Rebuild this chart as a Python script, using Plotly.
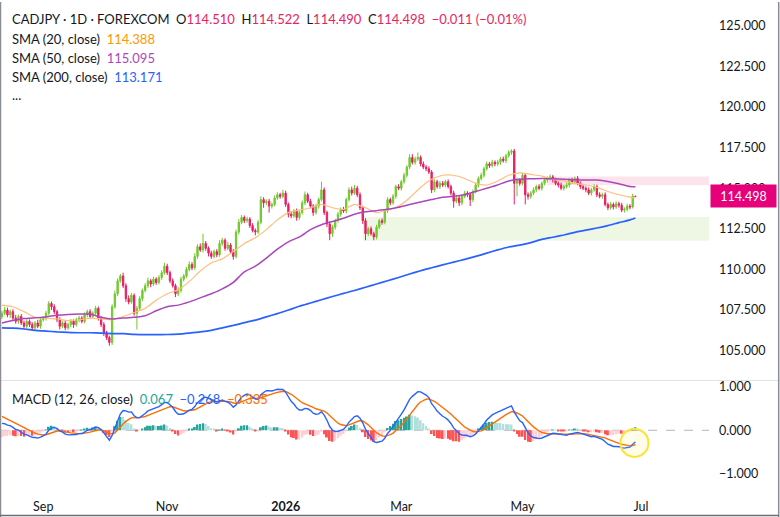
import pandas as pd
import plotly.graph_objects as go

# ---------------- data ----------------
first_open = 107.1
last_open = 114.510
closes = [
    107.3, 107.5, 107.2, 107.4, 107.0, 106.8, 107.1, 106.7, 106.5, 106.8,
    106.6, 106.4, 106.7, 106.5, 106.9, 107.0, 107.3, 107.9, 107.7, 107.4,
    106.9, 106.5, 106.7, 106.4, 106.6, 106.8, 106.6, 106.9, 107.0, 106.8,
    107.2, 107.4, 107.1, 107.3, 107.6, 107.0, 106.6, 106.1, 105.8, 105.5,
    107.7, 108.5, 109.3, 109.6, 109.0, 108.2, 108.0, 108.4, 107.3, 107.6,
    108.2, 108.7, 109.0, 109.3, 109.1, 109.4, 109.2, 109.5, 109.8, 110.2,
    109.8, 109.3, 109.0, 108.5, 108.7, 109.4, 109.6, 110.0, 110.3, 110.1,
    110.8, 111.4, 111.2, 111.6, 111.3, 111.0, 110.8, 111.1, 110.9, 111.6,
    111.8, 111.3, 111.5, 111.1, 110.8, 112.3, 112.9, 113.2, 113.0, 113.1,
    112.7, 112.4, 112.3, 112.9, 114.3, 114.1, 114.2, 113.9, 114.0, 114.4,
    114.6, 114.5, 114.7, 114.0, 113.4, 113.3, 113.6, 113.2, 113.5, 114.1,
    114.6, 114.2, 113.9, 113.5, 113.9, 114.3, 114.9, 113.5, 112.8, 112.2,
    112.6, 113.0, 113.4, 113.7, 113.6, 114.3, 114.9, 114.7, 115.0, 114.6,
    113.8, 113.0, 112.2, 112.5, 112.2, 112.0, 112.6, 113.0, 112.9, 113.6,
    114.3, 114.1, 114.5, 115.1, 115.0, 115.4, 115.8, 116.3, 116.9, 116.6,
    116.8, 116.9, 116.5, 116.3, 116.2, 116.0, 114.9, 115.4, 115.1, 115.3,
    115.2, 115.4, 115.1, 114.7, 114.2, 114.4, 114.1, 114.5, 114.7, 114.6,
    114.3, 114.8, 115.2, 115.6, 115.8, 116.2, 116.5, 116.4, 116.6, 116.5,
    116.6, 116.8, 116.7, 117.0, 117.2, 117.3, 115.3, 115.5, 115.3, 115.8,
    114.6, 114.5, 114.7, 114.9, 115.1, 115.0, 115.3, 115.5, 115.6, 115.7,
    115.5, 115.3, 115.2, 115.0, 115.1, 115.2, 115.5, 115.4, 115.6, 115.3,
    115.1, 115.0, 114.9, 114.7, 114.9, 115.1, 114.6, 114.5, 114.6, 114.0,
    113.8, 114.0, 113.85, 114.05, 113.95, 113.65, 113.7, 113.9, 113.85, 114.509,
    114.498,
]
upper_wick = [
    .15, .2, .15, .12, .15, .2, .12, .15, .15, .12,
    .12, .15, .12, .2, .15, .12, .15, .15, .12, .15,
    .12, .15, .12, .15, .12, .15, .12, .12, .15, .12,
    .15, .12, .15, .12, .15, .12, .12, .15, .12, .12,
    .15, .2, .15, .12, .2, .15, .2, .15, .12, .15,
    .15, .12, .15, .2, .12, .15, .12, .15, .15, .2,
    .15, .12, .15, .12, .2, .15, .12, .15, .2, .15,
    .2, .15, .2, .6, .15, .12, .15, .12, .15, .2,
    .15, .12, .2, .12, .15, .15, .2, .15, .12, .15,
    .12, .15, .12, .15, .2, .15, .12, .15, .12, .15,
    .15, .12, .2, .15, .12, .15, .12, .15, .12, .15,
    .2, .12, .15, .12, .15, .12, .5, .15, .12, .15,
    .15, .12, .15, .12, .15, .12, .15, .2, .2, .15,
    .15, .12, .15, .12, .15, .12, .15, .12, .15, .12,
    .15, .12, .15, .12, .15, .12, .15, .12, .2, .2,
    .15, .3, .12, .15, .12, .15, .12, .15, .12, .15,
    .15, .12, .15, .12, .15, .12, .15, .12, .15, .12,
    .15, .12, .15, .12, .15, .12, .15, .12, .15, .12,
    .15, .12, .15, .12, .15, .1, .12, .15, .12, .15,
    .12, .15, .12, .15, .12, .15, .12, .15, .12, .15,
    .12, .15, .12, .15, .12, .15, .12, .15, .12, .15,
    .12, .15, .12, .15, .12, .15, .12, .15, .12, .15,
    .12, .15, .12, .15, .12, .15, .12, .15, .12, .15,
    .012,
]
lower_wick = [
    .15, .12, .15, .2, .12, .15, .15, .12, .2, .15,
    .15, .15, .2, .12, .15, .12, .15, .12, .2, .15,
    .15, .2, .12, .15, .12, .15, .2, .12, .15, .12,
    .12, .15, .12, .15, .12, .15, .15, .2, .15, .2,
    .15, .12, .15, .12, .15, .2, .15, .12, .15, 1.0,
    .12, .15, .12, .15, .2, .12, .15, .12, .15, .12,
    .15, .15, .12, .2, .15, .12, .15, .12, .12, .15,
    .12, .15, .12, .15, .15, .2, .15, .12, .15, .12,
    .15, .15, .12, .15, .2, .12, .15, .12, .15, .12,
    .15, .12, .2, .12, .12, .3, .15, .4, .15, .12,
    .12, .15, .12, .15, .2, .15, .12, .2, .15, .12,
    .15, .12, .15, .2, .12, .15, .12, .15, .2, .4,
    .2, .15, .12, .15, .12, .15, .12, .15, .12, .15,
    .15, .2, .4, .15, .12, .2, .15, .12, .15, .12,
    .12, .15, .12, .15, .12, .15, .12, .15, .12, .15,
    .15, .12, .15, .12, .15, .12, .2, .15, .12, .15,
    .12, .15, .12, .15, .4, .12, .2, .15, .12, .15,
    .4, .15, .12, .15, .12, .15, .12, .15, .12, .15,
    .12, .15, .12, .15, .12, .15, 1.3, .8, .15, .12,
    .6, .2, .15, .12, .15, .12, .15, .12, .15, .12,
    .15, .12, .15, .12, .15, .12, .15, .12, .15, .12,
    .15, .12, .15, .12, .15, .12, .15, .12, .15, .12,
    .15, .12, .15, .12, .15, .12, .15, .12, .15, .1,
    .008,
]

# moving averages every 4th bar (plus the last bar)
sma_idx = list(range(0, 229, 4)) + [230]
sma20 = [107.8, 107.7, 107.4, 107.05, 107.0, 106.95, 106.85, 106.9, 107.0, 106.95,
         106.9, 107.1, 107.35, 107.6, 108.1, 108.5, 108.75, 109.25, 109.9, 110.4,
         110.65, 111.1, 111.6, 111.95, 112.45, 113.05, 113.5, 113.65, 113.8, 114.0,
         113.8, 113.7, 114.0, 113.8, 113.5, 113.65, 113.9, 114.4, 115.05, 115.55,
         115.8, 115.8, 115.6, 115.3, 115.2, 115.45, 115.8, 115.95, 115.85, 115.75,
         115.55, 115.45, 115.3, 115.2, 115.05, 114.8, 114.6, 114.45, 114.388]
sma50 = [106.7, 106.85, 106.97, 107.02, 107.07, 107.18, 107.23, 107.25, 107.25, 107.05,
         106.95, 107.0, 107.05, 107.15, 107.45, 107.7, 107.8, 108.0, 108.25, 108.5,
         108.8, 109.2, 109.85, 110.2, 110.7, 111.25, 111.7, 112.0, 112.45, 112.75,
         112.95, 113.15, 113.4, 113.55, 113.62, 113.7, 113.83, 114.0, 114.15, 114.3,
         114.45, 114.5, 114.6, 114.8, 115.0, 115.2, 115.45, 115.55, 115.58, 115.6,
         115.58, 115.55, 115.52, 115.5, 115.5, 115.42, 115.28, 115.1, 115.095]
sma200 = [106.4, 106.38, 106.33, 106.25, 106.2, 106.15, 106.12, 106.1, 106.1, 106.08,
          106.05, 106.04, 106.0, 105.98, 105.98, 105.99, 106.02, 106.08, 106.15, 106.25,
          106.4, 106.55, 106.72, 106.88, 107.08, 107.28, 107.5, 107.73, 107.93, 108.13,
          108.33, 108.52, 108.7, 108.9, 109.1, 109.3, 109.5, 109.72, 109.92, 110.1,
          110.28, 110.45, 110.62, 110.8, 111.0, 111.2, 111.38, 111.5, 111.65, 111.85,
          111.98, 112.12, 112.28, 112.42, 112.55, 112.7, 112.88, 113.05, 113.171]

macd_seed = 0.16     # MACD value at the first visible bar
signal_seed = 0.32   # signal value at the first visible bar

tick_dates = ["2025-09-01", "2025-11-03", "2026-01-01", "2026-03-02", "2026-05-01", "2026-07-01"]
tick_text = ["Sep", "Nov", "<b>2026</b>", "Mar", "May", "Jul"]
price_ticks = [105, 107.5, 110, 112.5, 115, 117.5, 120, 122.5, 125]
macd_ticks = [-1, 0, 1]
supply_zone = (115.18, 115.73)
demand_zone = (111.77, 113.23)
supply_start_bar = 198
demand_start_bar = 131

# ---------------- derived series ----------------
dates = pd.bdate_range("2025-08-11", periods=len(closes))
ext = pd.bdate_range("2025-08-11", periods=len(closes) + 40)
opens = [first_open] + closes[:-2] + [last_open]
highs = [max(o, c) + u for o, c, u in zip(opens, closes, upper_wick)]
lows = [min(o, c) - l for o, c, l in zip(opens, closes, lower_wick)]

a12, a26, a9 = 2 / 13, 2 / 27, 2 / 10
e26 = closes[0]
e12 = closes[0] + macd_seed
sig = signal_seed
macd, signal = [e12 - e26], [sig]
for c in closes[1:]:
    e12 = e12 + a12 * (c - e12)
    e26 = e26 + a26 * (c - e26)
    m = e12 - e26
    sig = sig + a9 * (m - sig)
    macd.append(m)
    signal.append(sig)
hist = [m - s for m, s in zip(macd, signal)]
hcol = []
for i, h in enumerate(hist):
    prev = hist[i - 1] if i > 0 else h
    if h >= 0:
        hcol.append("#26A69A" if h > prev else "#B2DFDB")
    else:
        hcol.append("#FF5252" if h < prev else "#FFCDD2")

UP = "#72C82E"
DOWN = "#E91E63"
TXT = "#131722"
FONT = "Lato, sans-serif"

sma_dates = [dates[i] for i in sma_idx]

fig = go.Figure()
fig.add_trace(go.Candlestick(
    x=dates, open=opens, high=highs, low=lows, close=closes,
    increasing=dict(line=dict(color=UP, width=1), fillcolor=UP),
    decreasing=dict(line=dict(color=DOWN, width=1), fillcolor=DOWN),
    whiskerwidth=0, xaxis="x", yaxis="y", showlegend=False, hoverinfo="skip"))
fig.add_trace(go.Scatter(x=sma_dates, y=sma20, mode="lines",
                         line=dict(color="#FFBE7A", width=1.2, shape="spline", smoothing=0.6),
                         xaxis="x", yaxis="y", showlegend=False))
fig.add_trace(go.Scatter(x=sma_dates, y=sma50, mode="lines",
                         line=dict(color="#AB47BC", width=1.5, shape="spline", smoothing=0.6),
                         xaxis="x", yaxis="y", showlegend=False))
fig.add_trace(go.Scatter(x=sma_dates, y=sma200, mode="lines",
                         line=dict(color="#2962FF", width=1.7, shape="spline", smoothing=0.6),
                         xaxis="x", yaxis="y", showlegend=False))

fig.add_trace(go.Bar(x=dates, y=hist, marker=dict(color=hcol, line=dict(width=0)),
                     xaxis="x", yaxis="y2", showlegend=False))
fig.add_trace(go.Scatter(x=dates, y=signal, mode="lines", line=dict(color="#FF6D00", width=1.4),
                         xaxis="x", yaxis="y2", showlegend=False))
fig.add_trace(go.Scatter(x=dates, y=macd, mode="lines", line=dict(color="#2962FF", width=1.4),
                         xaxis="x", yaxis="y2", showlegend=False))

W, H = 780, 517
ML, MR, MT, MB = 0, 71, 0, 20
PW, PH = W - ML - MR, H - MT - MB
sep_px = 380
main_bottom = (PH - sep_px) / PH
macd_top = (PH - sep_px - 1) / PH

range_start = dates[0] - pd.Timedelta(days=2, hours=17)
range_end = ext[256] + pd.Timedelta(hours=17)

fig.update_layout(
    width=W, height=H, margin=dict(l=ML, r=MR, t=MT, b=MB),
    paper_bgcolor="white", plot_bgcolor="white", bargap=0.3,
    font=dict(family=FONT, size=12, color=TXT),
    showlegend=False, hovermode=False,
    xaxis=dict(type="date", range=[range_start, range_end],
               rangebreaks=[dict(bounds=["sat", "mon"])],
               rangeslider=dict(visible=False), anchor="y2",
               showgrid=False, zeroline=False, showline=False, ticks="",
               tickvals=tick_dates, ticktext=tick_text,
               tickfont=dict(family=FONT, size=12.5, color=TXT)),
    yaxis=dict(domain=[main_bottom, 1], side="right", range=[103.16, 126.47],
               tickvals=price_ticks, tickformat=".3f", showgrid=False, zeroline=False,
               ticks="", ticklabelstandoff=9, anchor="x",
               tickfont=dict(family=FONT, size=12.5, color=TXT)),
    yaxis2=dict(domain=[0, macd_top], side="right", range=[-1.54, 1.126],
                tickvals=macd_ticks, tickformat=".3f", showgrid=False, zeroline=False,
                ticks="", ticklabelstandoff=9, anchor="x",
                tickfont=dict(family=FONT, size=12.5, color=TXT)),
)

shapes = []
# zones
shapes.append(dict(type="rect", xref="x", yref="y", x0=dates[supply_start_bar], x1=range_end,
                   y0=supply_zone[0], y1=supply_zone[1], fillcolor="rgba(233,30,99,0.12)",
                   line=dict(width=0), layer="below"))
shapes.append(dict(type="rect", xref="x", yref="y", x0=dates[demand_start_bar], x1=range_end,
                   y0=demand_zone[0], y1=demand_zone[1], fillcolor="rgba(139,195,74,0.15)",
                   line=dict(width=0), layer="below"))
# macd zero line
shapes.append(dict(type="line", xref="paper", yref="y2", x0=0, x1=1, y0=0, y1=0,
                   line=dict(color="#B2B5BE", width=1, dash="dash"), layer="below"))
# pane separator
shapes.append(dict(type="line", xref="paper", yref="paper", x0=0, x1=778 / PW,
                   y0=main_bottom, y1=main_bottom, line=dict(color="#E0E3EB", width=1)))
# widget frame
shapes.append(dict(type="line", xref="paper", yref="paper", x0=0.5 / PW, x1=0.5 / PW,
                   y0=(PH - 517) / PH, y1=1, line=dict(color="#8A8D94", width=1.5)))
shapes.append(dict(type="line", xref="paper", yref="paper", x0=778.7 / PW, x1=778.7 / PW,
                   y0=(PH - 517) / PH, y1=1, line=dict(color="#8A8D94", width=1.5)))
shapes.append(dict(type="line", xref="paper", yref="paper", x0=0, x1=779 / PW,
                   y0=(PH - 515.7) / PH, y1=(PH - 515.7) / PH, line=dict(color="#6B6E76", width=1.5)))
# highlight circle around last MACD value
shapes.append(dict(type="circle", xref="x", yref="y2", xsizemode="pixel", ysizemode="pixel",
                   xanchor=dates[-1], yanchor=macd[-1], x0=-15, x1=13, y0=-15, y1=13,
                   fillcolor="rgba(255,235,59,0.12)", line=dict(color="#FDE23A", width=2)))
fig.update_layout(shapes=shapes)

PINK = "#E91E63"
def sp(t, c):
    return f'<span style="color:{c}">{t}</span>'

nb = "\u00a0"
o, h, l, c = opens[-1], highs[-1], lows[-1], closes[-1]
chg = c - closes[-2]
pct = chg / closes[-2] * 100
line1 = ("CADJPY · 1D · FOREXCOM" + nb * 2 + "O" + sp(f"{o:.3f}", PINK) + nb * 2 +
         "H" + sp(f"{h:.3f}", PINK) + nb * 2 + "L" + sp(f"{l:.3f}", PINK) + nb * 2 +
         "C" + sp(f"{c:.3f}", PINK) + nb * 2 +
         sp(f"{chg:.3f} ({pct:.2f}%)".replace("-", "\u2212"), PINK))
legend_lines = [
    (17, line1),
    (37, "SMA (20, close)" + nb * 2 + sp(f"{sma20[-1]:.3f}", "#FF9800")),
    (56, "SMA (50, close)" + nb * 2 + sp(f"{sma50[-1]:.3f}", "#AB47BC")),
    (75, "SMA (200, close)" + nb * 2 + sp(f"{sma200[-1]:.3f}", "#2962FF")),
    (93, "..."),
]
ann = []
for ypx, txt in legend_lines:
    ann.append(dict(xref="paper", yref="paper", x=10 / PW, y=(PH - ypx) / PH, xanchor="left",
                    yanchor="middle", text=txt, showarrow=False,
                    font=dict(family=FONT, size=13, color=TXT)))
macd_txt = ("MACD (12, 26, close)" + nb * 2 + sp(f"{hist[-1]:.3f}", "#26A69A") + nb * 2 +
            sp(f"{macd[-1]:.3f}".replace("-", "\u2212"), "#2962FF") + nb * 2 +
            sp(f"{signal[-1]:.3f}".replace("-", "\u2212"), "#FF6D00"))
ann.append(dict(xref="paper", yref="paper", x=10 / PW, y=(PH - 399) / PH, xanchor="left",
                yanchor="middle", text=macd_txt, showarrow=False,
                font=dict(family=FONT, size=13, color=TXT)))
ann.append(dict(xref="paper", yref="y", x=1, xshift=1, y=closes[-1], xanchor="left",
                yanchor="middle", text=f"{closes[-1]:.3f}", showarrow=False,
                bgcolor="#E6007A", width=63, height=20, align="center",
                font=dict(family=FONT, size=12.5, color="white")))
fig.update_layout(annotations=ann)

fig.write_html("out.html")
